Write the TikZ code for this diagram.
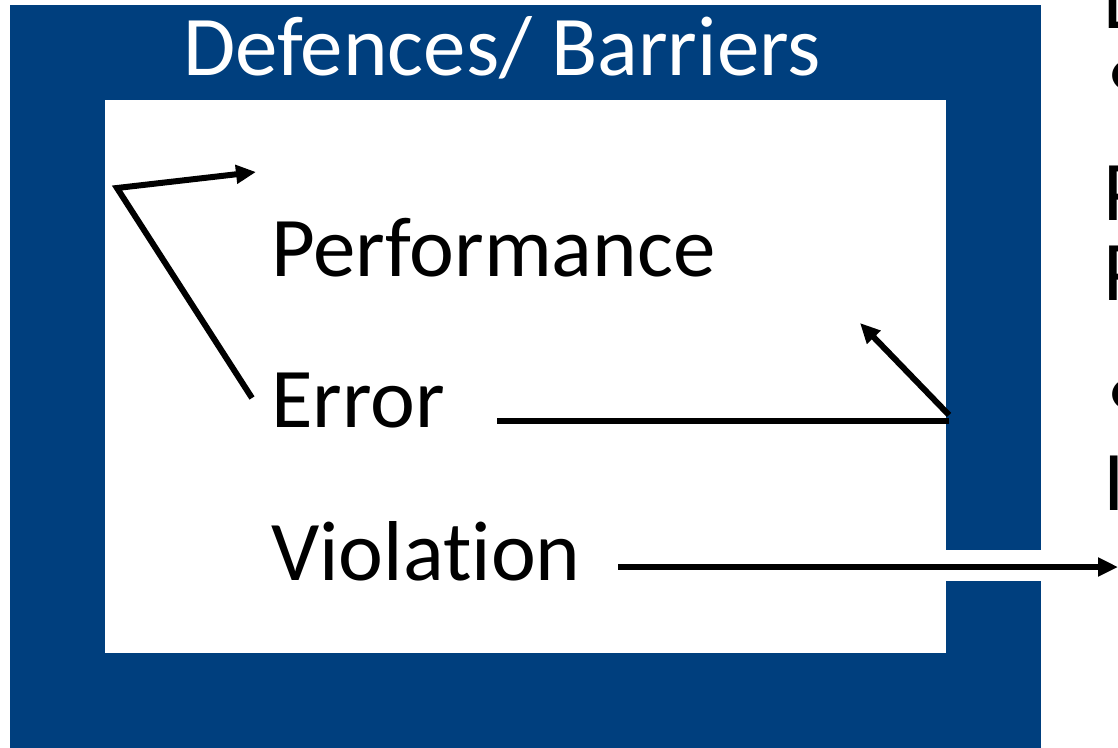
\documentclass[tikz,border=0pt]{standalone}
\usepackage{fontspec}
\setmainfont[Ligatures={NoCommon}]{Carlito}
\usetikzlibrary{arrows.meta}
\definecolor{barrier}{RGB}{0,63,126}
\tikzset{
  lbl/.style={anchor=base west, inner sep=0pt, font=\fontsize{85}{100}\selectfont},
  conn/.style={line width=6pt, black},
  arr/.style={conn, -{Triangle[length=20pt,width=18pt]}}
}
\begin{document}
\begin{tikzpicture}[x=1pt,y=-1pt]
\useasboundingbox (0,0) rectangle (1118,747);
% barrier frame
\fill[barrier] (10,5) rectangle (1041,760);
\fill[white] (105,100) rectangle (946,653);
\fill[white] (946,550) rectangle (1041,581);
% title
\node[lbl, text=white] (title) at (183,75) {Defences/ Barriers};
% labels
\node[lbl] (perf) at (271,276) {Performance};
\node[lbl] (err) at (271,427) {Error};
\node[lbl] (viol) at (271,580) {Violation};
% partially visible text at right edge
\node[lbl] (r1) at (1103,28) {L};
\node[lbl] (r2) at (1106,99) {•};
\node[lbl] (r3) at (1103,220) {P};
\node[lbl] (r4) at (1103,300) {P};
\node[lbl] (r5) at (1106,418) {•};
\node[lbl] (r6) at (1103,510) {I};
% connectors
\coordinate (a1) at (252,398);
\coordinate (a2) at (117,188);
\coordinate (a3) at (256,172);
\draw[arr, line join=miter] (a1) -- (a2) -- (a3);
\coordinate (b1) at (497,421);
\coordinate (b2) at (949,421);
\draw[conn] (b1) -- (b2);
\coordinate (c1) at (949,415);
\coordinate (c2) at (860,323);
\draw[arr] (c1) -- (c2);
\coordinate (d1) at (618,567);
\coordinate (d2) at (1118,567);
\draw[arr] (d1) -- (d2);
\end{tikzpicture}
\end{document}
